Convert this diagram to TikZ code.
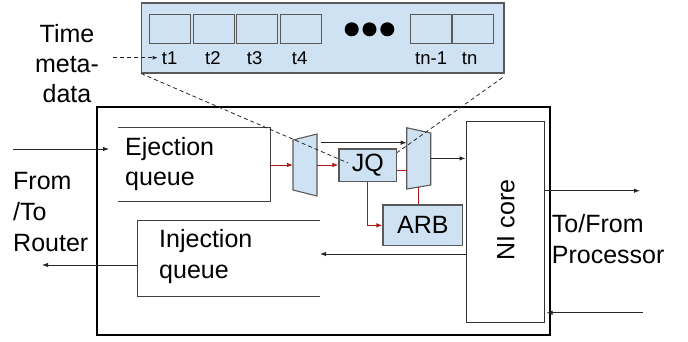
\documentclass[tikz,border=0pt]{standalone}
\usepackage{fontspec}
\setmainfont{Liberation Sans}
\usetikzlibrary{arrows.meta,calc}
\definecolor{lblue}{HTML}{CFE2F3}
\definecolor{edgec}{HTML}{595959}
\definecolor{dred}{HTML}{B01515}
\begin{document}
\begin{tikzpicture}[x=1pt,y=-1pt,
  big/.style={font=\fontsize{25}{30}\selectfont, inner sep=0pt},
  small/.style={font=\fontsize{18.5}{21}\selectfont, inner sep=0pt, anchor=base west},
  bluebox/.style={draw=edgec, fill=lblue, line width=1.1pt, inner sep=0pt},
  cell/.style={draw=edgec, fill=lblue, line width=1pt, minimum width=41pt, minimum height=29pt, inner sep=0pt},
  ghost/.style={inner sep=0pt, outer sep=0pt},
  qline/.style={draw=black!75, line width=0.9pt},
  arr/.style={draw=black!85, line width=0.9pt, -{Latex[length=6pt,width=4.5pt]}},
  redarr/.style={draw=dred, line width=1pt, -{Latex[length=6pt,width=4.5pt]}},
  redline/.style={draw=dred, line width=1pt},
  dline/.style={draw=black!85, line width=0.8pt, dash pattern=on 4pt off 3pt},
]
\useasboundingbox (0,0) rectangle (688,341);

% top time-metadata buffer
\node[bluebox, minimum width=362.3pt, minimum height=70pt] (top) at (322.85,38) {};
\node[cell] (c1) at (170.3,28.5) {};
\node[cell] (c2) at (213.5,28.5) {};
\node[cell] (c3) at (257,28.5) {};
\node[cell] (c4) at (300.5,28.5) {};
\node[cell] (cn1) at (430.5,28.5) {};
\node[cell] (cn) at (473,28.5) {};
\node[small] (t1) at (161.7,64) {t1};
\node[small] (t2) at (205,64) {t2};
\node[small] (t3) at (246.7,64) {t3};
\node[small] (t4) at (291.7,64) {t4};
\node[small] (tn1) at (415,64) {tn-1};
\node[small] (tn) at (461.7,64) {tn};
\node[circle, fill=black, inner sep=0pt, minimum size=14pt] (d1) at (351.7,29.3) {};
\node[circle, fill=black, inner sep=0pt, minimum size=14pt] (d2) at (369.5,29.3) {};
\node[circle, fill=black, inner sep=0pt, minimum size=14pt] (d3) at (387.3,29.3) {};

\node[big, align=center, anchor=north] (time) at (67,24) {Time\\meta-\\data};

% outer NI box
\node[draw=black, line width=2pt, minimum width=453.3pt, minimum height=227.8pt, inner sep=0pt] (outer) at (323.35,220.6) {};

% queues
\node[ghost, minimum width=152pt, minimum height=73.3pt] (ejq) at (194,164.35) {};
\draw[qline] (ejq.north west) -- (ejq.north east) -- (ejq.south east) -- (ejq.south west);
\node[big, align=left, anchor=north west] (ejt) at (125,137) {Ejection\\queue};

\node[ghost, minimum width=183pt, minimum height=76pt] (injq) at (228.5,258.7) {};
\draw[qline] (injq.north east) -- (injq.north west) -- (injq.south west) -- (injq.south east);
\node[big, align=left, anchor=north west, font=\fontsize{25}{31}\selectfont] (injt) at (159,229) {Injection\\queue};

% muxes
\node[ghost, minimum width=24pt, minimum height=62pt] (m1) at (305,165) {};
\draw[bluebox] ($(m1.north west)+(0,6)$) -- (m1.north east) -- (m1.south east) -- ($(m1.south west)+(0,-6)$) -- cycle;
\node[ghost, minimum width=24pt, minimum height=61.3pt] (m2) at (418.7,158.4) {};
\draw[bluebox] (m2.north west) -- ($(m2.north east)+(0,5.3)$) -- ($(m2.south east)+(0,-4)$) -- (m2.south west) -- cycle;
\coordinate (mb) at ($(m2.south west)!0.5!($(m2.south east)+(0,-4)$)$);

% JQ, ARB, NI core
\node[bluebox, big, minimum width=57.7pt, minimum height=32.7pt] (jq) at (367.85,165.35) {JQ};
\node[bluebox, big, minimum width=79.7pt, minimum height=40.7pt] (arb) at (422.85,225.35) {ARB};
\node[draw=black!80, line width=1pt, minimum width=78pt, minimum height=201pt, inner sep=0pt] (ni) at (505,222.2) {};
\node[big, rotate=90] (nit) at (506,220) {NI core};

% outside labels
\node[big, align=left, anchor=north west, font=\fontsize{25}{31}\selectfont] (router) at (13,172) {From\\/To\\Router};
\node[big, align=left, anchor=north west, font=\fontsize{25}{31}\selectfont] (proc) at (551.7,214) {To/From\\Processor};

% black connectors
\coordinate (rin) at (13,149);
\draw[arr, shorten >=9pt] (rin) -- (rin -| ejq.west);
\coordinate (rout) at (42,265);
\draw[arr] (rout -| injq.west) -- (rout);
\coordinate (jin) at (320.7,142.7);
\draw[arr] (jin) -- (jin -| m2.west);
\draw[arr] (m2.east) -- (m2.east -| ni.west);
\coordinate (ninj) at (320,254);
\draw[arr] (ninj -| ni.west) -- (ninj);
\coordinate (pout) at (640,190.7);
\draw[arr] (pout -| ni.east) -- (pout);
\coordinate (pin) at (643,312.7);
\draw[arr, shorten >=2pt] (pin) -- (pin -| ni.east);

% red connectors
\draw[redarr] (m1.west -| ejq.east) -- (m1.west);
\draw[redarr] (m1.east) -- (m1.east -| jq.west);
\coordinate (jqr) at ($(jq.east)+(0,5)$);
\draw[redline] (jqr) -- (jqr -| m2.west);
\draw[redarr] (jq.south) |- (arb.west);
\draw[redline] (mb |- arb.north) -- (mb);

% dashed
\path (t1.west) ++(-48.7,0) coordinate (tm);
\draw[dline, -{Latex[length=5pt,width=4pt]}, shorten >=4pt] (tm) -- (t1.west);
\coordinate (jqa) at (348,163);
\draw[dline] (top.south west) -- (jqa);
\draw[dline] ($(top.south east)+(-2,4)$) -- ($(jq.north east)+(0,4)$);
\end{tikzpicture}
\end{document}
